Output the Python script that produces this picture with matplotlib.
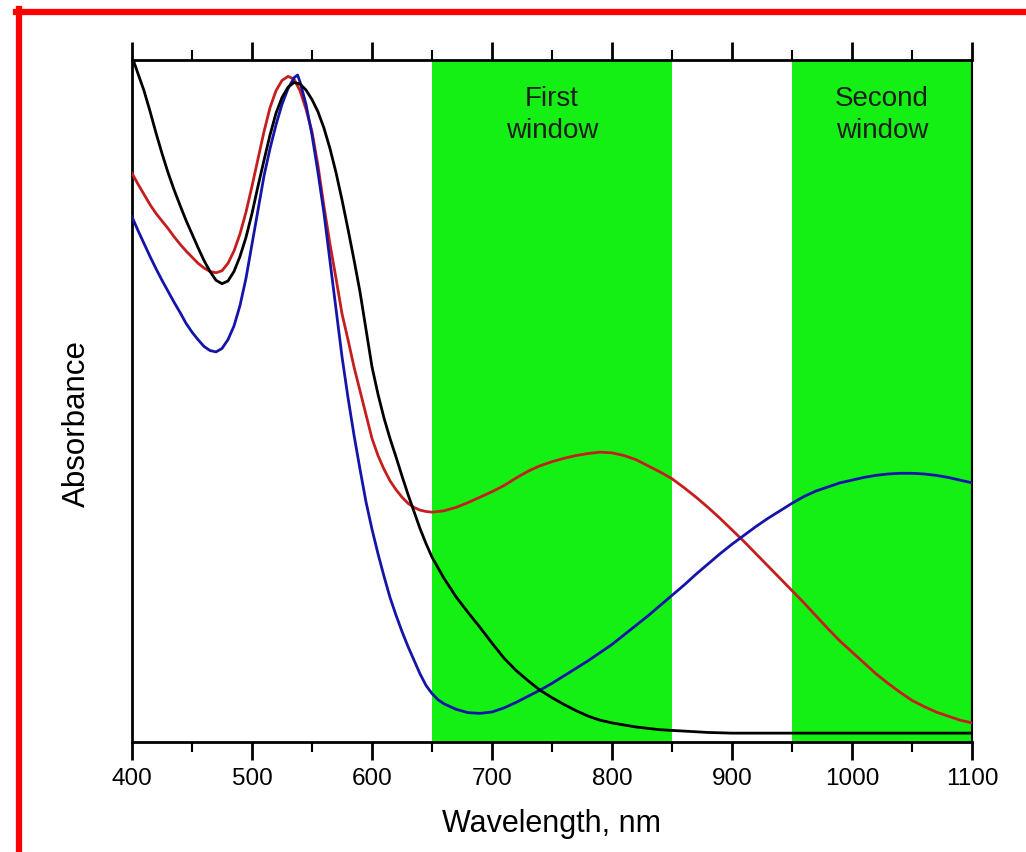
#!/usr/bin/env python3
"""Absorbance spectra with the two NIR biological windows shaded."""
import matplotlib
matplotlib.use("Agg")
import matplotlib.pyplot as plt
from matplotlib.lines import Line2D

# black curve
wl_black = [400, 405, 410, 415, 420, 425, 430, 435, 440, 445, 450, 455, 460, 465, 470,
            475, 480, 485, 490, 495, 500, 505, 510, 515, 520, 525, 530, 535, 540, 545,
            550, 555, 560, 565, 570, 575, 580, 585, 590, 595, 600, 605, 610, 615, 620,
            625, 630, 635, 640, 645, 650, 660, 670, 680, 690, 700, 710, 720, 730, 740,
            750, 760, 770, 780, 790, 800, 820, 840, 860, 880, 900, 1000, 1100]
abs_black = [1.005, 0.98, 0.955, 0.925, 0.893, 0.863, 0.835, 0.81, 0.787, 0.765, 0.745,
             0.725, 0.706, 0.69, 0.677, 0.672, 0.676, 0.69, 0.712, 0.74, 0.775, 0.815,
             0.853, 0.89, 0.922, 0.945, 0.96, 0.967, 0.965, 0.956, 0.942, 0.924, 0.9,
             0.87, 0.835, 0.795, 0.752, 0.707, 0.66, 0.605, 0.55, 0.51, 0.475, 0.445,
             0.418, 0.39, 0.363, 0.338, 0.313, 0.291, 0.271, 0.24, 0.213, 0.19, 0.168,
             0.145, 0.123, 0.105, 0.09, 0.076, 0.065, 0.055, 0.046, 0.038, 0.032, 0.028,
             0.022, 0.018, 0.016, 0.014, 0.013, 0.013, 0.013]

# red curve
wl_red = [400, 405, 410, 415, 420, 425, 430, 435, 440, 445, 450, 455, 460, 465, 470, 475,
          480, 485, 490, 495, 500, 505, 510, 515, 520, 525, 530, 535, 540, 545, 550, 555,
          560, 565, 570, 575, 580, 585, 590, 595, 600, 605, 610, 615, 620, 625, 630, 635,
          640, 645, 650, 660, 670, 680, 690, 700, 710, 720, 730, 740, 750, 760, 770, 780,
          790, 800, 810, 820, 830, 840, 850, 860, 870, 880, 890, 900, 910, 920, 930, 940,
          950, 960, 970, 980, 990, 1000, 1010, 1020, 1030, 1040, 1050, 1060, 1070, 1080,
          1090, 1100]
abs_red = [0.834, 0.818, 0.803, 0.788, 0.775, 0.764, 0.753, 0.741, 0.73, 0.72, 0.711,
           0.702, 0.695, 0.69, 0.688, 0.691, 0.702, 0.72, 0.745, 0.777, 0.815, 0.855,
           0.895, 0.93, 0.955, 0.97, 0.976, 0.972, 0.955, 0.928, 0.895, 0.845, 0.785,
           0.73, 0.68, 0.628, 0.59, 0.55, 0.515, 0.48, 0.445, 0.42, 0.4, 0.383, 0.37,
           0.359, 0.35, 0.344, 0.34, 0.338, 0.337, 0.339, 0.344, 0.351, 0.359, 0.367,
           0.376, 0.387, 0.397, 0.405, 0.411, 0.416, 0.42, 0.423, 0.425, 0.424, 0.42,
           0.414, 0.405, 0.396, 0.386, 0.373, 0.359, 0.344, 0.328, 0.311, 0.294, 0.276,
           0.258, 0.24, 0.222, 0.204, 0.185, 0.166, 0.148, 0.132, 0.116, 0.1, 0.086,
           0.073, 0.061, 0.052, 0.044, 0.038, 0.032, 0.028]

# blue curve
wl_blue = [400, 405, 410, 415, 420, 425, 430, 435, 440, 445, 450, 455, 460, 465, 470, 475,
           480, 485, 490, 495, 500, 505, 510, 515, 520, 525, 530, 535, 538, 540, 545, 550,
           555, 560, 565, 570, 575, 580, 585, 590, 595, 600, 605, 610, 615, 620, 625, 630,
           635, 640, 645, 650, 655, 660, 670, 680, 690, 700, 710, 720, 730, 740, 750, 760,
           770, 780, 790, 800, 810, 820, 830, 840, 850, 860, 870, 880, 890, 900, 910, 920,
           930, 940, 950, 960, 970, 980, 990, 1000, 1010, 1020, 1030, 1040, 1050, 1060,
           1070, 1080, 1090, 1100]
abs_blue = [0.770, 0.75, 0.731, 0.712, 0.694, 0.677, 0.661, 0.645, 0.63, 0.614, 0.601,
            0.59, 0.58, 0.574, 0.572, 0.577, 0.59, 0.61, 0.64, 0.68, 0.73, 0.78, 0.83,
            0.87, 0.905, 0.935, 0.958, 0.974, 0.978, 0.968, 0.935, 0.89, 0.835, 0.775,
            0.705, 0.635, 0.565, 0.505, 0.45, 0.4, 0.352, 0.312, 0.276, 0.243, 0.212,
            0.186, 0.162, 0.14, 0.12, 0.1, 0.083, 0.071, 0.062, 0.056, 0.048, 0.043, 0.042,
            0.044, 0.05, 0.058, 0.067, 0.076, 0.086, 0.097, 0.108, 0.119, 0.131, 0.143,
            0.157, 0.171, 0.185, 0.2, 0.215, 0.23, 0.246, 0.261, 0.276, 0.29, 0.303, 0.316,
            0.328, 0.339, 0.35, 0.36, 0.368, 0.374, 0.38, 0.384, 0.388, 0.391, 0.393,
            0.394, 0.394, 0.393, 0.391, 0.388, 0.384, 0.38]

windows = [(650, 850, "First\nwindow"), (950, 1100, "Second\nwindow")]

GREEN = "#14f014"
FONT = "Liberation Sans"


def main():
    plt.rcParams["font.family"] = [FONT, "DejaVu Sans"]
    fig = plt.figure(figsize=(10.26, 8.52), dpi=100)
    ax = fig.add_axes([132 / 1026, 1 - 742 / 852, 840 / 1026, 682 / 852])

    for lo, hi, label in windows:
        ax.axvspan(lo, hi, color=GREEN, lw=0, zorder=0)
        ax.text((lo + hi) / 2, 0.962, label, ha="center", va="top",
                fontsize=20, color="#1e1e1e", linespacing=1.3, zorder=1)

    ax.plot(wl_red, abs_red, color="#c41e1e", lw=2.0, zorder=3)
    ax.plot(wl_blue, abs_blue, color="#1414a8", lw=2.0, zorder=3)
    ax.plot(wl_black, abs_black, color="black", lw=2.0, zorder=4)

    ax.set_xlim(400, 1100)
    ax.set_ylim(0, 1.0)
    ax.set_xticks(range(400, 1101, 100))
    ax.set_xticks(range(450, 1100, 100), minor=True)
    ax.set_yticks([])
    ax.tick_params(axis="x", which="major", direction="out", length=13, width=2,
                   labelsize=17.5, pad=6, top=True)
    ax.tick_params(axis="x", which="minor", direction="out", length=7, width=1.5,
                   top=True)
    for side in ["left", "bottom", "top"]:
        ax.spines[side].set_linewidth(2)
    ax.spines["right"].set_linewidth(1.5)

    ax.set_xlabel("Wavelength, nm", fontsize=22)
    ax.xaxis.set_label_coords(0.5, -0.098)
    ax.set_ylabel("Absorbance", fontsize=22.5)
    ax.yaxis.set_label_coords(-0.048, 0.467)

    # red frame around the figure
    fig.add_artist(Line2D([16 / 1026, 1], [1 - 11.5 / 852] * 2, color="red", lw=4.5,
                          transform=fig.transFigure))
    fig.add_artist(Line2D([19 / 1026] * 2, [0, 1 - 9 / 852], color="red", lw=4.5,
                          transform=fig.transFigure))

    fig.savefig("out.png", dpi=100)
    plt.close(fig)


if __name__ == "__main__":
    main()
